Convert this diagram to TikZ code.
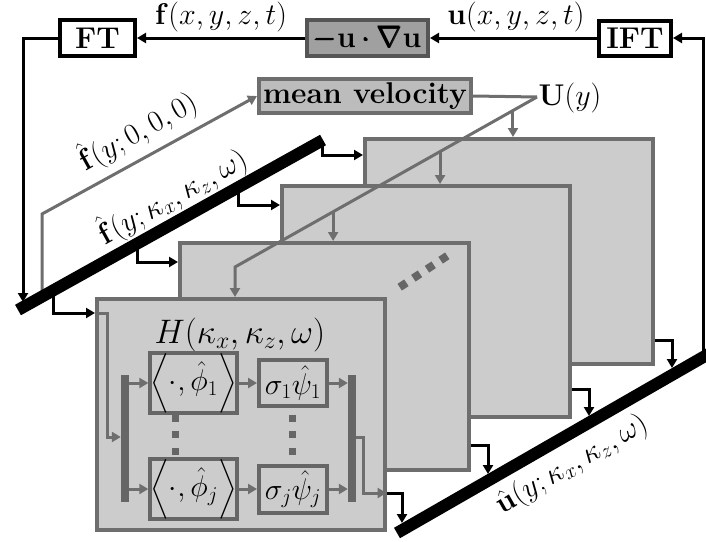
\RequirePackage{fix-cm}
\documentclass[tikz,border=0pt]{standalone}
\usepackage{amsmath}
\usetikzlibrary{arrows.meta,calc}
\definecolor{cpanel}{HTML}{CCCCCC}
\definecolor{cedge}{HTML}{6E6E6E}
\definecolor{cdark}{HTML}{666666}
\definecolor{cdarker}{HTML}{555555}
\definecolor{cmid}{HTML}{A0A0A0}
\definecolor{clight}{HTML}{BCBCBC}
\tikzset{
  every node/.style={font=\fontsize{30}{36}\selectfont, inner sep=0pt},
  tip/.style={-{Triangle[length=9pt,width=10pt]}},
  blk/.style={line width=3pt, black, tip, line join=miter},
  gry/.style={line width=3pt, cedge, tip, line join=miter},
  gline/.style={line width=3pt, cedge},
  barline/.style={line width=12pt, black},
  topbox/.style={draw=black, line width=4pt, fill=white},
  darkbox/.style={draw=cdarker, line width=4pt, fill=cmid},
  lightbox/.style={draw=cedge, line width=4pt, fill=clight},
  panel/.style={draw=cedge, line width=3.5pt, fill=cpanel, anchor=north west},
  ibox/.style={draw=cdark, line width=4pt, fill=cpanel},
  ibar/.style={fill=cdark, minimum width=8pt, minimum height=127pt},
  bigtitle/.style={font=\fontsize{34}{40}\selectfont},
}
\begin{document}
\begin{tikzpicture}[x=1pt,y=-1pt]
\useasboundingbox (0,0) rectangle (706,541);

% top row
\node[topbox, minimum width=75pt, minimum height=36pt] (FT) at (97.5,38) {\textbf{FT}};
\node[darkbox, minimum width=121pt, minimum height=36pt] (NL) at (367.5,38) {$\pmb{-}\mathbf{u}\pmb{\cdot}\pmb{\nabla}\mathbf{u}$};
\node[topbox, minimum width=72pt, minimum height=35pt] (IFT) at (635,38) {\textbf{IFT}};
\node (flab) at (221,17) {$\mathbf{f}(x,y,z,t)$};
\node (ulab) at (516,17) {$\mathbf{u}(x,y,z,t)$};
\draw[blk] (IFT.west) -- (NL.east);
\draw[blk] (NL.west) -- (FT.east);

% mean velocity
\node[lightbox, minimum width=212pt, minimum height=34pt] (MV) at (365,96) {\textbf{mean velocity}};
\node (U) at (570,98) {$\mathbf{U}(y)$};

% panels
\node[panel, minimum width=288pt, minimum height=225pt] (PA) at (363,137) {};
\node[panel, minimum width=288pt, minimum height=231pt] (PB) at (280,184) {};
\node[panel, minimum width=289pt, minimum height=227pt] (PC) at (178,241) {};
\draw[line width=8pt, cdark, dash pattern=on 8pt off 8.33pt] (399.7,287.2) -- (447.3,255.8);
\node[panel, minimum width=288pt, minimum height=231pt] (PD) at (95,297) {};

% contents of front panel
\node[bigtitle] (Ht) at (240,335) {$H(\kappa_x,\kappa_z,\omega)$};
\node[ibox, minimum width=83pt, minimum height=46pt] (B1) at (193.5,383) {$\Big\langle\cdot,\hat{\phi}_1\Big\rangle$};
\node[ibox, minimum width=68pt, minimum height=46pt] (B2) at (293,383) {$\sigma_1\hat{\psi}_1$};
\node[ibox, minimum width=83pt, minimum height=47pt] (B3) at (193.5,489) {$\Big\langle\cdot,\hat{\phi}_j\Big\rangle$};
\node[ibox, minimum width=68pt, minimum height=47pt] (B4) at (293,489) {$\sigma_j\hat{\psi}_j$};
\node[ibar] (IB1) at (125,438.5) {};
\node[ibar] (IB2) at (352,438.5) {};
\draw[line width=7pt, cdark, dash pattern=on 7pt off 9.5pt] (175,414.5) -- (175,454.5);
\draw[line width=7pt, cdark, dash pattern=on 7pt off 9.5pt] (292,414.5) -- (292,454.5);
\draw[gry] (IB1.east |- B1.west) -- (B1.west);
\draw[gry] (B1.east) -- (B2.west);
\draw[gry] (B2.east) -- (IB2.west |- B2.east);
\draw[gry] (IB1.east |- B3.west) -- (B3.west);
\draw[gry] (B3.east) -- (B4.west);
\draw[gry] (B4.east) -- (IB2.west |- B4.east);
\coordinate (ya4) at (0,313);
\coordinate (iv) at (107,437);
\coordinate (ov) at (363,493);
\draw[gry] (PD.west |- ya4) -| (iv) -- (IB1.west |- iv);
\draw[gry] (IB2.east |- iv) -| (ov) -- (PD.east |- ov);

% mean velocity distribution lines
\coordinate (uj) at (537,97);
\coordinate (dc) at (235,267);
\draw[gline] (MV.east) -- (uj);
\draw[gry] (uj) -- (dc) -- (dc |- PD.north);
\coordinate (bj1) at ($(uj)!0.0795!(dc)$);
\coordinate (bj2) at ($(uj)!0.321!(dc)$);
\coordinate (bj3) at ($(uj)!0.675!(dc)$);
\draw[gry] (bj1) -- (bj1 |- PA.north);
\draw[gry] (bj2) -- (bj2 |- PB.north);
\draw[gry] (bj3) -- (bj3 |- PC.north);

% zero mode line
\coordinate (g0) at (42,297);
\coordinate (g1) at (42,214);
\draw[gry] (g0) -- (g1) -- (MV.west);
\node[rotate=29] (l0) at (137,131) {$\hat{\mathbf{f}}(y;0,0,0)$};

% input elbows from left bar
\coordinate (la1) at (322,141); \coordinate (ya1) at (0,155);
\coordinate (la2) at (238,188); \coordinate (ya2) at (0,205);
\coordinate (la3) at (137,244); \coordinate (ya3) at (0,262);
\coordinate (la4) at (53,291);
\draw[blk] (la1) |- (PA.west |- ya1);
\draw[blk] (la2) |- (PB.west |- ya2);
\draw[blk] (la3) |- (PC.west |- ya3);
\draw[blk] (la4) |- (PD.west |- ya4);

% output elbows to right bar
\coordinate (yr1) at (0,340); \coordinate (ra1) at (672,368);
\coordinate (yr2) at (0,389); \coordinate (ra2) at (589,416);
\coordinate (yr3) at (0,445); \coordinate (ra3) at (488,474);
\coordinate (ra4) at (402,523);
\draw[blk] (PA.east |- yr1) -| (ra1);
\draw[blk] (PB.east |- yr2) -| (ra2);
\draw[blk] (PC.east |- yr3) -| (ra3);
\draw[blk] (PD.east |- ov) -| (ra4);

% feedback lines
\coordinate (lv) at (23,302);
\coordinate (rv) at (703,358);
\draw[blk] (FT.west) -| (lv);
\draw[blk] (rv) |- (IFT.east);

% bars
\coordinate (LB1) at (18,310); \coordinate (LB2) at (323,140);
\coordinate (RB1) at (397,533); \coordinate (RB2) at (712,352);
\draw[barline] (LB1) -- (LB2);
\draw[barline] (RB1) -- (RB2);
\node[rotate=29] (lk) at (172,196) {$\hat{\mathbf{f}}(y;\kappa_x,\kappa_z,\omega)$};
\node[rotate=29.9] (lu) at (572,465) {$\hat{\mathbf{u}}(y;\kappa_x,\kappa_z,\omega)$};
\end{tikzpicture}
\end{document}
